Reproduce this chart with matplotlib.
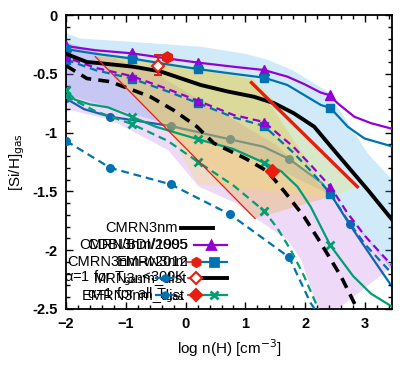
import numpy as np
import matplotlib
matplotlib.use("Agg")
import matplotlib.pyplot as plt
from matplotlib.lines import Line2D

plt.rcParams['font.family'] = ['Liberation Sans', 'DejaVu Sans']

PURPLE = '#9400D3'
BLUE = '#0072B2'
GREEN = '#009E73'
RED = '#E51E10'
BLACK = '#000000'

# ---------------- data ----------------
# black solid (CMRN3nm)
blk_x = [-2, -1.65, -1.43, -0.87, -0.42, 0.25, 0.70, 1.14, 1.48, 1.81, 2.15, 2.48, 3.05, 3.45]
blk_y = [-0.33, -0.40, -0.41, -0.44, -0.48, -0.595, -0.65, -0.695, -0.75, -0.836, -0.95, -1.15, -1.49, -1.74]

# black dashed
bkd_x = [-2, -1.65, -1.26, -0.98, -0.59, -0.2, 0.19, 0.47, 1.0, 1.37, 1.65, 1.98, 2.26, 2.6, 2.82, 2.88]
bkd_y = [-0.43, -0.54, -0.567, -0.62, -0.695, -0.81, -0.95, -1.09, -1.22, -1.33, -1.50, -1.715, -1.94, -2.225, -2.45, -2.5]

# purple solid with triangles
pu_x = [-2, -1.5, -0.9, -0.3, 0.21, 0.8, 1.31, 1.70, 1.98, 2.26, 2.40, 2.54, 2.82, 3.1, 3.47]
pu_y = [-0.264, -0.30, -0.326, -0.37, -0.405, -0.44, -0.468, -0.524, -0.587, -0.66, -0.68, -0.75, -0.865, -0.92, -0.97]
pu_mx = [-2, -0.9, 0.21, 1.31, 2.42]
pu_my = [-0.264, -0.326, -0.405, -0.468, -0.68]

# blue solid with squares
bl_x = [-2, -1.5, -0.9, -0.3, 0.21, 0.8, 1.31, 1.70, 1.98, 2.26, 2.42, 2.71, 2.99, 3.47]
bl_y = [-0.29, -0.33, -0.37, -0.42, -0.46, -0.50, -0.533, -0.595, -0.68, -0.765, -0.79, -0.95, -1.05, -1.12]
bl_mx = [-2, -0.9, 0.21, 1.31, 2.42]
bl_my = [-0.29, -0.37, -0.46, -0.533, -0.79]

# purple dashed with triangles
pud_x = [-2, -1.5, -0.9, -0.3, 0.21, 0.8, 1.31, 1.8, 2.1, 2.42, 2.7, 3.0, 3.45]
pud_y = [-0.36, -0.45, -0.52, -0.63, -0.73, -0.85, -0.91, -1.12, -1.28, -1.46, -1.68, -1.88, -2.13]
pud_mx = [-2, -0.9, 0.21, 1.31, 2.42]
pud_my = [-0.36, -0.52, -0.73, -0.91, -1.46]

# blue dashed with squares
bld_x = [-2, -1.5, -0.9, -0.3, 0.21, 0.8, 1.31, 1.8, 2.1, 2.42, 2.7, 3.0, 3.45]
bld_y = [-0.38, -0.47, -0.54, -0.65, -0.75, -0.87, -0.944, -1.17, -1.33, -1.52, -1.74, -1.95, -2.2]
bld_mx = [-2, -0.9, 0.21, 1.31, 2.42]
bld_my = [-0.38, -0.54, -0.75, -0.944, -1.52]

# blue solid with circles
blc_x = [-2, -1.7, -1.26, -0.25, 0.74, 1.3, 1.73, 2.28, 2.42, 2.74, 3.1, 3.45]
blc_y = [-0.71, -0.80, -0.865, -0.944, -1.057, -1.12, -1.224, -1.43, -1.52, -1.78, -2.05, -2.31]
blc_mx = [-2, -1.26, -0.25, 0.74, 1.73, 2.74]
blc_my = [-0.71, -0.865, -0.944, -1.057, -1.224, -1.78]

# blue dashed with circles
bdc_x = [-2, -1.26, -0.25, 0.74, 1.73, 2.09, 2.16]
bdc_y = [-1.07, -1.30, -1.44, -1.695, -2.06, -2.45, -2.5]
bdc_mx = [-2, -1.26, -0.25, 0.74, 1.73]
bdc_my = [-1.07, -1.30, -1.44, -1.695, -2.06]

# green solid with crosses
gr_x = [-2, -1.85, -1.6, -1.3, -0.9, -0.5, 0.21, 0.8, 1.31, 1.6, 1.87, 2.09, 2.42, 2.8, 3.1, 3.45]
gr_y = [-0.64, -0.72, -0.76, -0.785, -0.865, -0.95, -1.057, -1.14, -1.256, -1.33, -1.46, -1.63, -1.96, -2.22, -2.37, -2.48]
gr_mx = [-2, -0.9, 0.21, 1.31, 2.42]
gr_my = [-0.64, -0.865, -1.057, -1.256, -1.96]

# green dashed with crosses
grd_x = [-2, -1.5, -0.9, -0.3, 0.21, 0.8, 1.31, 1.53, 1.76, 1.98, 2.15, 2.22]
grd_y = [-0.69, -0.82, -0.927, -1.07, -1.25, -1.45, -1.665, -1.81, -2.0, -2.22, -2.42, -2.5]
grd_mx = [-2, -0.9, 0.21, 1.31]
grd_my = [-0.69, -0.927, -1.25, -1.665]

# red reference lines
rthin_x = [-1.51, 1.16]
rthin_y = [-0.354, -1.73]
rthick_x = [1.10, 2.87]
rthick_y = [-0.575, -1.46]

# red observational points
obs_hex = (-0.31, -0.36)
obs_dia_open = (-0.46, -0.434)
obs_dia_err = (0.075, 0.09)
obs_dia_fill = (1.45, -1.324)

# shaded bands
bb_up_x = [-2, -1.77, -1.0, 0.25, 1.0, 1.37, 1.79, 2.37, 3.05, 3.45]
bb_up_y = [-0.155, -0.20, -0.225, -0.27, -0.33, -0.38, -0.47, -0.65, -1.18, -1.40]
bb_lo_x = [-2, -1.5, -0.5, 0.5, 1.5, 2.43, 3.45]
bb_lo_y = [-0.68, -0.75, -0.90, -1.10, -1.30, -1.53, -2.17]

pb_up_x = [-2, -1.4, -0.5, 0.5, 1.5, 2.43, 3.45]
pb_up_y = [-0.23, -0.33, -0.50, -0.80, -1.10, -1.53, -2.14]
pb_lo_x = [-2, -1.26, -0.29, 0.22, 0.84, 1.14, 1.7, 1.93, 2.2, 2.3]
pb_lo_y = [-0.80, -0.89, -1.15, -1.46, -1.60, -1.72, -1.91, -2.08, -2.48, -2.6]

ob_x = [-1.51, 1.16, 2.43, 1.14, 0.2, -0.9]
ob_y = [-0.354, -1.73, -1.545, -0.55, -0.45, -0.37]

yb_x = [-1.51, -0.9, 0.2, 1.10, 2.87, 2.43, 0.2, -0.3]
yb_y = [-0.33, -0.36, -0.44, -0.52, -1.46, -1.55, -1.44, -0.97]

# legend texts
leg_rows = [
    ["CMRN3nm"],
    ["CMRN3nm/1995", "CDBI/BDI/2005"],
    ["EMRN3nm", "CMRN3nm-w2012"],
    ["\u03b1=1 for T$_{\\rm gas}$<300K", "MRN3nm_dist"],
    ["EMRN3nm_dist", "\u03b1=1 for all T$_{\\rm gas}$"],
]

# ---------------- figure ----------------
W, H = 415, 374
fig = plt.figure(figsize=(W / 100, H / 100), dpi=100)
L, R, T, B = 66, 392, 15, 309
ax = fig.add_axes([L / W, 1 - B / H, (R - L) / W, (B - T) / H])
ax.set_xlim(-2, 3.45)
ax.set_ylim(-2.5, 0)

def poly(ux, uy, lx, ly):
    return np.concatenate([ux, lx[::-1]]), np.concatenate([uy, ly[::-1]])

# lines drawn under the fills
ax.plot(blc_x, blc_y, color=BLUE, lw=1.6, zorder=1)
ax.plot(blc_mx, blc_my, 'o', color=BLUE, ms=5.5, zorder=1)

px, py = poly(np.array(bb_up_x), np.array(bb_up_y), np.array(bb_lo_x), np.array(bb_lo_y))
ax.fill(px, py, color='#56B4E9', alpha=0.27, lw=0, zorder=2)
px, py = poly(np.array(pb_up_x), np.array(pb_up_y), np.array(pb_lo_x), np.array(pb_lo_y))
ax.fill(px, py, color=PURPLE, alpha=0.15, lw=0, zorder=2)
ax.fill(ob_x, ob_y, color='#E69F00', alpha=0.25, lw=0, zorder=2)
ax.fill(yb_x, yb_y, color='#F0E442', alpha=0.25, lw=0, zorder=2)

dash = (0, (3.5, 2.2))
ax.plot(bdc_x, bdc_y, color=BLUE, lw=1.6, ls=dash, zorder=3)
ax.plot(bdc_mx, bdc_my, 'o', color=BLUE, ms=5.5, zorder=3)
ax.plot(grd_x, grd_y, color=GREEN, lw=1.6, ls=dash, zorder=3)
ax.plot(grd_mx, grd_my, 'x', color=GREEN, ms=6, mew=2, zorder=3)
ax.plot(gr_x, gr_y, color=GREEN, lw=1.6, zorder=3)
ax.plot(gr_mx, gr_my, 'x', color=GREEN, ms=6, mew=2, zorder=3)
ax.plot(bld_x, bld_y, color=BLUE, lw=1.6, ls=dash, zorder=3)
ax.plot(bld_mx, bld_my, 's', color=BLUE, ms=6, zorder=3)
ax.plot(pud_x, pud_y, color=PURPLE, lw=1.6, ls=(2.5, (3.5, 2.2)), zorder=3)
ax.plot(pud_mx, pud_my, '^', color=PURPLE, ms=6, zorder=3)
ax.plot(pu_x, pu_y, color=PURPLE, lw=1.6, zorder=3)
ax.plot(pu_mx, pu_my, '^', color=PURPLE, ms=6.5, zorder=3)
ax.plot(bl_x, bl_y, color=BLUE, lw=1.6, zorder=3)
ax.plot(bl_mx, bl_my, 's', color=BLUE, ms=6, zorder=3)
ax.plot(bkd_x, bkd_y, color=BLACK, lw=2.6, ls=(0, (3, 2)), zorder=4)
ax.plot(blk_x, blk_y, color=BLACK, lw=2.8, zorder=4)
ax.plot(rthin_x, rthin_y, color=RED, lw=0.9, zorder=4)
ax.plot(rthick_x, rthick_y, color=RED, lw=2.4, zorder=4)

ax.plot(*obs_hex, 'h', color=RED, ms=8, zorder=5)
ax.errorbar(obs_dia_open[0], obs_dia_open[1], yerr=[[obs_dia_err[0]], [obs_dia_err[1]]],
            fmt='D', mfc='white', mec=RED, color=RED, ms=6, mew=1.5, capsize=3, elinewidth=1.5, zorder=5)
ax.plot(*obs_dia_fill, 'D', color=RED, ms=7, zorder=5)

# axes styling
ax.set_xticks([-2, -1, 0, 1, 2, 3])
ax.set_yticks([0, -0.5, -1, -1.5, -2, -2.5])
ax.set_yticklabels(['0', '-0.5', '-1', '-1.5', '-2', '-2.5'])
ax.set_xticks(np.arange(-2, 3.45, 0.2), minor=True)
ax.set_yticks(np.arange(-2.5, 0.01, 0.1), minor=True)
ax.tick_params(which='both', direction='in', top=True, right=True, labelsize=10.5, width=1)
ax.tick_params(which='major', length=5, pad=6)
ax.tick_params(which='minor', length=3)
for lab in ax.get_xticklabels() + ax.get_yticklabels():
    lab.set_fontweight('bold')
for s in ax.spines.values():
    s.set_linewidth(1.3)
ax.set_xlabel('log n(H) [cm$^{-3}$]', fontsize=11)
ax.set_ylabel('[Si/H]$_{\\rm gas}$', fontsize=11)

# manual legend (gnuplot style, overlapping keys)
def axf(pxx, pyy):
    return (pxx - L) / (R - L), (B - pyy) / (B - T)

row_y = [228.3, 245, 261.7, 278.3, 295]
text_right = [178, 188, 188, 187, 185]
for i, texts in enumerate(leg_rows):
    for t in texts:
        xx, yy = axf(text_right[i], row_y[i])
        ax.text(xx, yy, t, transform=ax.transAxes, ha='right', va='center', fontsize=10.5, zorder=6)

samples = [
    dict(x0=181, x1=213, color=BLACK, lw=2.8, marker=None),
    dict(x0=194, x1=227, color=PURPLE, lw=1.6, marker='^'),
    dict(x0=200, x1=227, color=BLUE, lw=1.6, marker='s'),
    dict(x0=200, x1=227, color=BLACK, lw=2.8, marker=None),
    dict(x0=200, x1=227, color=GREEN, lw=1.6, marker='x'),
]
for i, s in enumerate(samples):
    x0, y0 = axf(s['x0'], row_y[i])
    x1, _ = axf(s['x1'], row_y[i])
    ax.add_line(Line2D([x0, x1], [y0, y0], transform=ax.transAxes, color=s['color'], lw=s['lw'], zorder=6, clip_on=False))
    if s['marker']:
        ax.add_line(Line2D([(x0 + x1) / 2], [y0], transform=ax.transAxes, color=s['color'], marker=s['marker'],
                           ms=6, mew=2, ls='none', zorder=6))
# red observational keys
for i, (m, fc) in zip([2, 3, 4], [('h', RED), ('D', 'white'), ('D', RED)]):
    xx, yy = axf(196, row_y[i])
    x0, _ = axf(188, row_y[i])
    ax.add_line(Line2D([x0, xx], [yy, yy], transform=ax.transAxes, color=RED, lw=1.2, zorder=7))
    ax.add_line(Line2D([xx], [yy], transform=ax.transAxes, marker=m, mfc=fc, mec=RED, mew=1.5, ms=6.5, ls='none', zorder=7))
# blue dashed-circle keys
for i in [3, 4]:
    x0, yy = axf(156, row_y[i])
    x1, _ = axf(173, row_y[i])
    ax.add_line(Line2D([x0, x1], [yy, yy], transform=ax.transAxes, color=BLUE, lw=1.6, zorder=6))
    ax.add_line(Line2D([(x0 + x1) / 2], [yy], transform=ax.transAxes, marker='o', color=BLUE, ms=5, ls='none', zorder=6))

fig.savefig('out.png', dpi=100)
